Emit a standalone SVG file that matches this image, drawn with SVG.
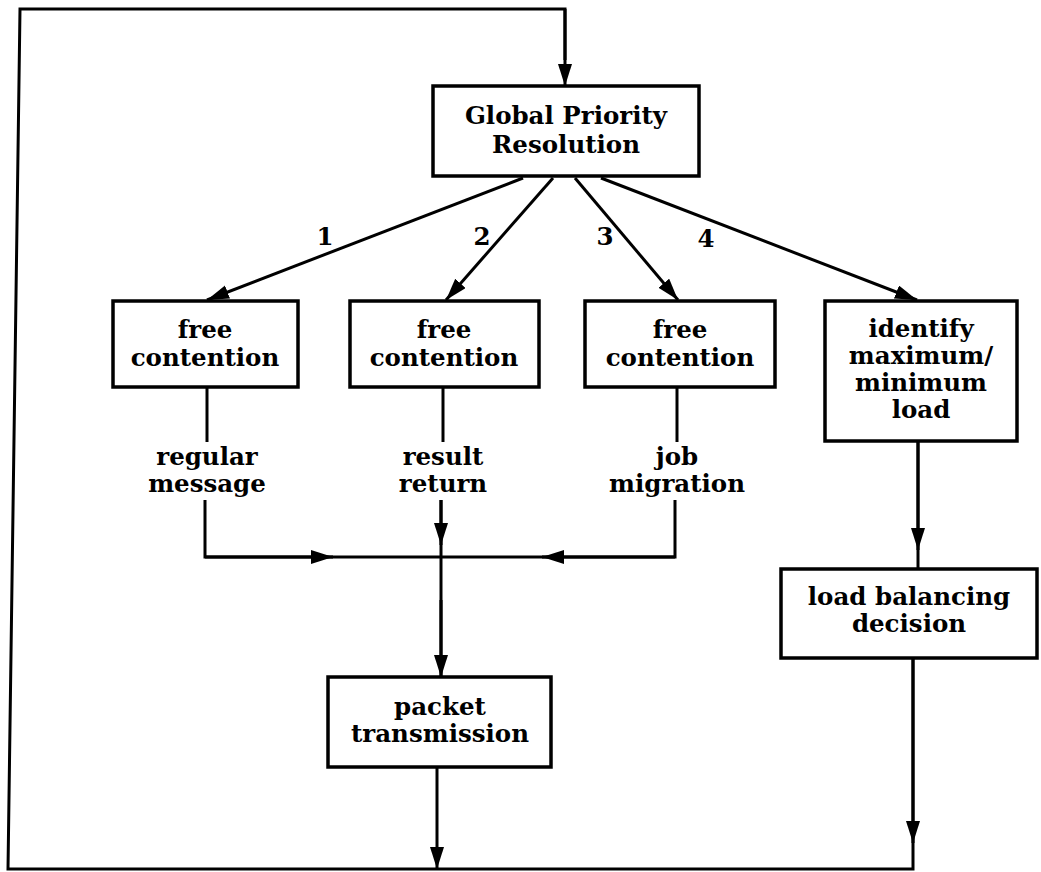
<svg xmlns="http://www.w3.org/2000/svg" width="1041" height="872" viewBox="0 0 1041 872">
<style>
.box{fill:#fff;stroke:#000;stroke-width:3.5}
.ln{fill:none;stroke:#000;stroke-width:3}
.t{font-family:"DejaVu Serif","Liberation Serif",serif;font-weight:bold;font-size:24.5px;fill:#000;text-anchor:middle}
</style>
<defs>
<marker id="ah" markerUnits="userSpaceOnUse" markerWidth="24" markerHeight="16" refX="22" refY="7" orient="auto">
<path d="M0,0 L22,7 L0,14 z" fill="#000"/>
</marker>
</defs>
<rect width="1041" height="872" fill="#fff"/>
<g id="connectors">
<polyline class="ln" points="913,659 913,869 8,869 20,9 565,9 565,60"/>
<line class="ln" x1="437" y1="768" x2="437" y2="869" marker-end="url(#ah)"/>
<line class="ln" x1="913" y1="659" x2="913" y2="843" marker-end="url(#ah)"/>
<line class="ln" x1="565" y1="9" x2="565" y2="86" marker-end="url(#ah)"/>
<line class="ln" x1="523" y1="178" x2="207" y2="300" marker-end="url(#ah)"/>
<line class="ln" x1="553" y1="178" x2="446" y2="300" marker-end="url(#ah)"/>
<line class="ln" x1="575" y1="178" x2="678" y2="300" marker-end="url(#ah)"/>
<line class="ln" x1="601" y1="178" x2="917" y2="300" marker-end="url(#ah)"/>
<line class="ln" x1="207" y1="387" x2="207" y2="442"/>
<line class="ln" x1="443" y1="387" x2="443" y2="442"/>
<line class="ln" x1="677" y1="387" x2="677" y2="442"/>
<polyline class="ln" points="205,500 205,557 675,557 675,500"/>
<line class="ln" x1="205" y1="557" x2="333" y2="557" marker-end="url(#ah)"/>
<line class="ln" x1="675" y1="557" x2="542" y2="557" marker-end="url(#ah)"/>
<line class="ln" x1="441" y1="500" x2="441" y2="677"/>
<line class="ln" x1="441" y1="500" x2="441" y2="545" marker-end="url(#ah)"/>
<line class="ln" x1="441" y1="600" x2="441" y2="677" marker-end="url(#ah)"/>
<line class="ln" x1="918" y1="441" x2="918" y2="569"/>
<line class="ln" x1="918" y1="441" x2="918" y2="550" marker-end="url(#ah)"/>
<text class="t" x="325" y="245">1</text>
<text class="t" x="482" y="245">2</text>
<text class="t" x="605" y="245">3</text>
<text class="t" x="706" y="247">4</text>
<text class="t" x="207" y="465">regular</text>
<text class="t" x="207" y="492">message</text>
<text class="t" x="443" y="465">result</text>
<text class="t" x="443" y="492">return</text>
<text class="t" x="677" y="465">job</text>
<text class="t" x="677" y="492">migration</text>
</g>
<g id="global">
<rect class="box" x="433" y="86" width="266" height="90"/>
<text class="t" x="566" y="124">Global Priority</text>
<text class="t" x="566" y="153">Resolution</text>
</g>
<g id="free1">
<rect class="box" x="113" y="301" width="185" height="86"/>
<text class="t" x="205" y="338">free</text>
<text class="t" x="205" y="366">contention</text>
</g>
<g id="free2">
<rect class="box" x="350" y="301" width="189" height="86"/>
<text class="t" x="444" y="338">free</text>
<text class="t" x="444" y="366">contention</text>
</g>
<g id="free3">
<rect class="box" x="585" y="301" width="190" height="86"/>
<text class="t" x="680" y="338">free</text>
<text class="t" x="680" y="366">contention</text>
</g>
<g id="identify">
<rect class="box" x="825" y="301" width="192" height="140"/>
<text class="t" x="921" y="337">identify</text>
<text class="t" x="921" y="364">maximum/</text>
<text class="t" x="921" y="391">minimum</text>
<text class="t" x="921" y="418">load</text>
</g>
<g id="loadbal">
<rect class="box" x="781" y="569" width="256" height="89"/>
<text class="t" x="909" y="605">load balancing</text>
<text class="t" x="909" y="632">decision</text>
</g>
<g id="packet">
<rect class="box" x="328" y="677" width="223" height="90"/>
<text class="t" x="440" y="715">packet</text>
<text class="t" x="440" y="742">transmission</text>
</g>
</svg>
